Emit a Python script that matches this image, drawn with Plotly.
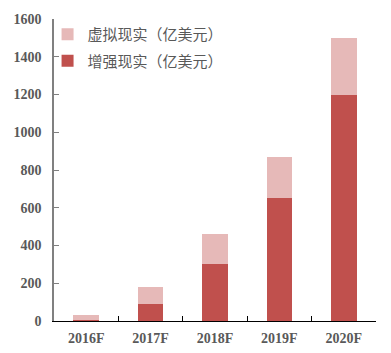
import plotly.graph_objects as go

categories = ["2016F", "2017F", "2018F", "2019F", "2020F"]
ar_values = [5, 90, 300, 650, 1200]      # 增强现实（亿美元）
vr_values = [25, 90, 160, 220, 300]      # 虚拟现实（亿美元）
y_ticks = [0, 200, 400, 600, 800, 1000, 1200, 1400, 1600]

fig = go.Figure()
fig.add_trace(go.Bar(x=categories, y=ar_values, name="增强现实（亿美元）",
                     marker=dict(color="#C0504D", line=dict(width=0)),
                     legendgroup="ar", legendrank=2))
fig.add_trace(go.Bar(x=categories, y=vr_values, name="虚拟现实（亿美元）",
                     marker=dict(color="#E6B9B8", line=dict(width=0)),
                     legendgroup="vr", legendrank=1))

fig.update_layout(
    width=391, height=353,
    margin=dict(l=54, r=15, t=19, b=32, autoexpand=False),
    barmode="stack", bargap=0.6,
    plot_bgcolor="white", paper_bgcolor="white",
    showlegend=True,
    legend=dict(x=-0.02, y=1.003, xanchor="left", yanchor="top",
                traceorder="grouped", tracegroupgap=4,
                font=dict(family="Noto Sans CJK SC", size=15, color="#595959"),
                bgcolor="rgba(0,0,0,0)", itemwidth=30),
    xaxis=dict(showline=True, linecolor="#000000", linewidth=1,
               ticks="inside", tickson="boundaries", ticklen=5, tickcolor="#000000",
               tickfont=dict(family="Liberation Serif", size=14, color="#595959", weight="bold"),
               showgrid=False, zeroline=False, ticklabelstandoff=4, automargin=False),
    yaxis=dict(range=[0, 1600], tickvals=y_ticks, showline=True, linecolor="#808080",
               linewidth=1.5, ticks="inside", ticklen=5, tickcolor="#808080",
               tickfont=dict(family="Liberation Serif", size=14, color="#595959", weight="bold"),
               showgrid=False, zeroline=False, ticklabelstandoff=8, automargin=False),
)

fig.write_html("out.html")
